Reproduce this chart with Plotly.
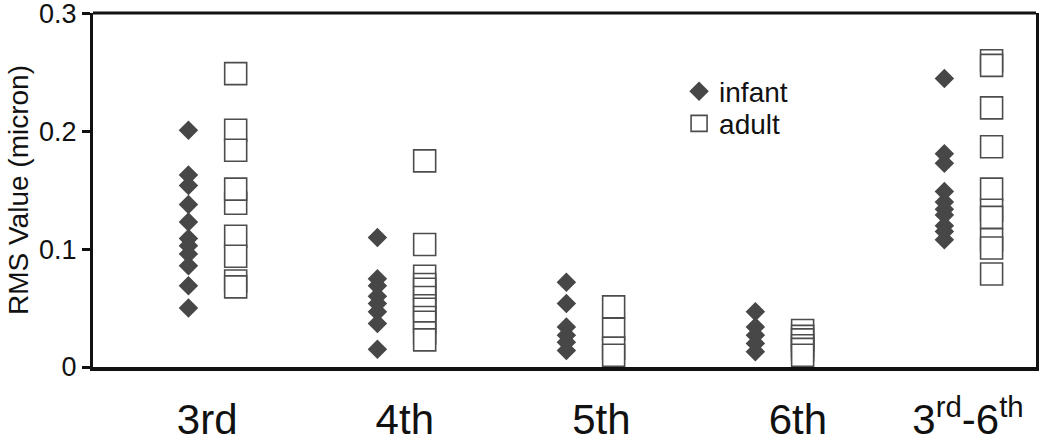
import plotly.graph_objects as go

categories = ["3rd", "4th", "5th", "6th", "3<sup>rd</sup>-6<sup>th</sup>"]

infant_3rd = [0.201, 0.163, 0.154, 0.138, 0.123, 0.109, 0.103, 0.096, 0.086, 0.069, 0.050]
infant_4th = [0.110, 0.075, 0.069, 0.060, 0.054, 0.047, 0.037, 0.015]
infant_5th = [0.072, 0.054, 0.034, 0.027, 0.021, 0.014]
infant_6th = [0.047, 0.034, 0.027, 0.020, 0.013]
infant_all = [0.245, 0.181, 0.173, 0.149, 0.140, 0.134, 0.129, 0.120, 0.115, 0.108]

adult_3rd = [0.249, 0.201, 0.184, 0.139, 0.151, 0.111, 0.094, 0.073, 0.068]
adult_4th = [0.175, 0.104, 0.077, 0.070, 0.066, 0.059, 0.052, 0.049, 0.042, 0.038, 0.029, 0.023]
adult_5th = [0.051, 0.032, 0.016, 0.010]
adult_6th = [0.031, 0.026, 0.023, 0.018, 0.015, 0.010]
adult_all = [0.260, 0.256, 0.220, 0.187, 0.151, 0.133, 0.127, 0.108, 0.101, 0.079]

y_ticks = [0, 0.1, 0.2, 0.3]
y_tick_labels = ["0", "0.1", "0.2", "0.3"]

infant_groups = [infant_3rd, infant_4th, infant_5th, infant_6th, infant_all]
adult_groups = [adult_3rd, adult_4th, adult_5th, adult_6th, adult_all]

OFFSET = 0.125
FONT = "Liberation Sans, Arial, Helvetica, sans-serif"


def flatten(groups, offset):
    xs, ys = [], []
    for i, g in enumerate(groups):
        for v in g:
            xs.append(i + offset)
            ys.append(v)
    return xs, ys


ix, iy = flatten(infant_groups, -OFFSET)
ax, ay = flatten(adult_groups, OFFSET)

fig = go.Figure()
fig.add_trace(go.Scatter(
    x=ix, y=iy, mode="markers", name="infant", legend="legend",
    marker=dict(symbol="diamond", size=15, color="#474747", line=dict(width=0)),
))
fig.add_trace(go.Scatter(
    x=ax, y=ay, mode="markers", name="adult", legend="legend2",
    marker=dict(symbol="square", size=22, color="white",
                line=dict(width=1.6, color="#4d4d4d")),
))

label_pos = [-0.026, 1.02, 2.06, 3.10, 4.0]
legend_style = dict(
    xanchor="left", yanchor="top",
    font=dict(size=28, family=FONT, color="#111111"),
    bgcolor="rgba(0,0,0,0)", itemwidth=30,
)

fig.update_layout(
    width=1050, height=448,
    margin=dict(l=93, r=14, t=13, b=81, autoexpand=False),
    paper_bgcolor="white", plot_bgcolor="white",
    font=dict(family=FONT, color="#111111"),
    showlegend=True,
    legend=dict(x=0.6215, y=0.849, **legend_style),
    legend2=dict(x=0.6215, y=0.758, **legend_style),
    xaxis=dict(
        range=[-0.63, 4.36], showgrid=False, zeroline=False, automargin=False,
        showline=True, linewidth=4, linecolor="#111111",
        tickmode="array", tickvals=label_pos, ticktext=categories,
        ticks="", ticklabelstandoff=13, ticklabeloverflow="allow",
        tickfont=dict(size=42, family=FONT, color="#111111"),
    ),
    yaxis=dict(
        range=[0, 0.3005], showgrid=False, zeroline=False, automargin=False,
        showline=True, linewidth=3, linecolor="#111111", mirror=True,
        tickmode="array", tickvals=y_ticks, ticktext=y_tick_labels,
        ticks="outside", ticklen=8, tickwidth=3, tickcolor="#111111",
        ticklabeloverflow="allow",
        tickfont=dict(size=27, family=FONT, color="#111111"),
        title=dict(text="RMS Value (micron)", standoff=3,
                   font=dict(size=28, family=FONT, color="#111111")),
    ),
    shapes=[dict(type="line", xref="paper", yref="paper", x0=0, x1=1, y0=1, y1=1,
                 line=dict(color="#111111", width=3))],
)

fig.write_html("out.html", config={"displayModeBar": False},
               post_script="document.body.style.margin='0';")
